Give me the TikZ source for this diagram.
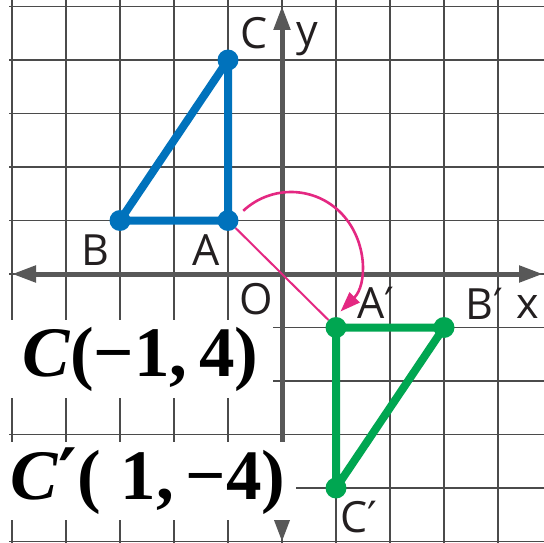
\documentclass[tikz,border=0pt]{standalone}
\usepackage{fontspec}
\setmainfont{Liberation Serif}
\newfontfamily\lblfont{Open Sans}
\newfontfamily\primesans{DejaVu Sans}
\newfontfamily\primeserif{DejaVu Serif}
\usetikzlibrary{arrows.meta}
\definecolor{gridc}{RGB}{75,75,75}
\definecolor{axisc}{RGB}{88,88,88}
\definecolor{triblue}{RGB}{0,114,188}
\definecolor{trigreen}{RGB}{0,166,81}
\definecolor{arcpink}{RGB}{228,40,130}
\definecolor{lblc}{RGB}{35,31,32}
\tikzset{
  gridline/.style={draw=gridc, line width=1.4pt},
  axisline/.style={draw=axisc, line width=5pt,
    {Triangle[length=24pt,width=16pt]}-{Triangle[length=24pt,width=16pt]}},
  triline/.style={line width=8pt, line join=round, line cap=round},
  ptdot/.style={circle, inner sep=0pt, minimum size=21pt},
  lbl/.style={font=\lblfont\fontsize{43}{43}\selectfont, inner sep=0pt, text=lblc},
  eqbox/.style={fill=white, inner sep=0pt, text=black,
    font=\fontsize{71}{72}\selectfont\bfseries, minimum height=78pt},
  pinkarc/.style={draw=arcpink, line width=2.6pt, -{Triangle[length=20pt,width=14pt]}},
  pinkline/.style={draw=arcpink, line width=2pt},
}
\begin{document}
\begin{tikzpicture}[x=1pt,y=-1pt]
\useasboundingbox (0,0) rectangle (544,543);
\fill[white] (0,0) rectangle (544,543);
\begin{scope}
\clip (0,0) rectangle (544,543);
% grid
\foreach \k in {-5,...,4} {
  \draw[gridline] ({282+54*\k},0) -- ({282+54*\k},543);
}
\foreach \k in {-5,...,5} {
  \draw[gridline] (9,{274+53.5*\k}) -- (544,{274+53.5*\k});
}
\end{scope}
% axes
\coordinate (xl) at (12,274);
\coordinate (xr) at (543,274);
\coordinate (yb) at (282,542);
\coordinate (yt) at (282,6);
\draw[axisline] (xl) -- (xr);
\draw[axisline] (yb) -- (yt);
% triangles
\begin{scope}[shift={(282,274)}, x=54pt, y=53.5pt]
\coordinate (A) at (-1,1);
\coordinate (B) at (-3,1);
\coordinate (C) at (-1,4);
\coordinate (A1) at (1,-1);
\coordinate (B1) at (3,-1);
\coordinate (C1) at (1,-4);
\end{scope}
\draw[triline, triblue] (A) -- (B) -- (C) -- cycle;
\draw[triline, trigreen] (A1) -- (B1) -- (C1) -- cycle;
\node[ptdot, fill=triblue] (dA) at (A) {};
\node[ptdot, fill=triblue] (dB) at (B) {};
\node[ptdot, fill=triblue] (dC) at (C) {};
\node[ptdot, fill=trigreen] (dA1) at (A1) {};
\node[ptdot, fill=trigreen] (dB1) at (B1) {};
\node[ptdot, fill=trigreen] (dC1) at (C1) {};
% rotation arrow
\draw[pinkline] (dA) -- (dA1);
\coordinate (arcc) at (291,262);
\draw[pinkarc] (arcc) ++(-133:70) arc[start angle=-133, end angle=45, radius=70];
% labels
\node[lbl, anchor=base] (lC) at (254,49) {C};
\node[lbl, anchor=base] (ly) at (307,46) {y};
\node[lbl, anchor=base] (lB) at (95,265) {B};
\node[lbl, anchor=base] (lA) at (206,265) {A};
\node[lbl, anchor=base] (lO) at (256,314) {O};
\node[lbl, anchor=base west] (lA1) at (357,318) {A{\primesans′}};
\node[lbl, anchor=base west] (lB1) at (465,319) {B{\primesans′}};
\node[lbl, anchor=base west] (lx) at (516,318) {x};
\node[lbl, anchor=base west] (lC1) at (340,532) {C{\primesans′}};
% equation boxes
\node[eqbox, minimum width=265pt] (eq1) at (140.5,359) {\textit{C}(−1,\,4)};
\node[eqbox, minimum width=296pt] (eq2) at (148,481) {\textit{C}{\primeserif′}(\hspace{20pt}1,\,−4)\hspace{25pt}};
\end{tikzpicture}
\end{document}
